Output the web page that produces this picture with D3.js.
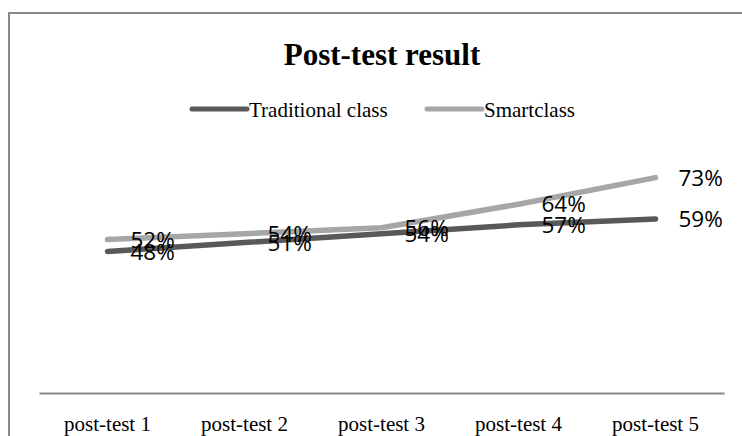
<!DOCTYPE html>
<html>
<head>
<meta charset="utf-8">
<script src="https://cdn.jsdelivr.net/npm/d3@7"></script>
<style>
  body { margin: 0; background: #fff; }
  svg { display: block; }
</style>
</head>
<body>
<svg></svg>
<script>
const categories = ["post-test 1", "post-test 2", "post-test 3", "post-test 4", "post-test 5"];
const traditional = [48, 51, 54, 57, 59];
const smartclass = [52, 54, 56, 64, 73];
const seriesNames = ["Traditional class", "Smartclass"];
const seriesColors = ["#595959", "#a6a6a6"];

const width = 742, height = 436;

const svg = d3.select("svg")
    .attr("width", width)
    .attr("height", height);

// chart frame (right and bottom edges fall outside the picture)
svg.append("path")
    .attr("d", "M9,436V13H742")
    .attr("fill", "none")
    .attr("stroke", "#888")
    .attr("stroke-width", 2);

const x = d3.scaleBand()
    .domain(categories)
    .range([39, 724]);

const y = d3.scaleLinear()
    .domain([0, 100])
    .range([393, 98]);

// title
svg.append("text")
    .attr("x", 382)
    .attr("y", 65)
    .attr("text-anchor", "middle")
    .style("font-family", "'Liberation Serif', 'Times New Roman', serif")
    .style("font-weight", "bold")
    .style("font-size", "31px")
    .text("Post-test result");

// legend
const legendX = [192, 427];
const legend = svg.selectAll("g.legend")
    .data(seriesNames)
    .enter().append("g")
    .attr("class", "legend")
    .attr("transform", (d, i) => "translate(" + legendX[i] + ",109)");

legend.append("line")
    .attr("x1", 0).attr("x2", 55)
    .attr("stroke", (d, i) => seriesColors[i])
    .attr("stroke-width", 5)
    .attr("stroke-linecap", "round");

legend.append("text")
    .attr("x", 57)
    .attr("y", 8)
    .style("font-family", "'Liberation Serif', 'Times New Roman', serif")
    .style("font-size", "21px")
    .text(d => d);

// x axis
const xAxis = svg.append("g")
    .attr("transform", "translate(0,393)")
    .call(d3.axisBottom(x).tickSize(0).tickPadding(23));

xAxis.select(".domain")
    .attr("stroke", "#888")
    .attr("stroke-width", 2);

xAxis.selectAll("text")
    .attr("fill", "#000")
    .style("font-family", "'Liberation Serif', 'Times New Roman', serif")
    .style("font-size", "21px");

// lines
const line = d3.line()
    .x((d, i) => x(categories[i]) + x.bandwidth() / 2)
    .y(d => y(d));

const series = [traditional, smartclass];

svg.selectAll("path.series")
    .data(series)
    .enter().append("path")
    .attr("class", "series")
    .attr("fill", "none")
    .attr("stroke", (d, i) => seriesColors[i])
    .attr("stroke-width", 5.5)
    .attr("stroke-linecap", "round")
    .attr("stroke-linejoin", "round")
    .attr("d", line);

// data labels, placed right of each point
series.forEach(values => {
  svg.selectAll(null)
      .data(values)
      .enter().append("text")
      .attr("x", (d, i) => x(categories[i]) + x.bandwidth() / 2 + 23)
      .attr("y", d => y(d))
      .attr("dy", "0.36em")
      .style("font-family", "'Open Sans', sans-serif")
      .style("font-size", "22.5px")
      .attr("fill", "#000")
      .text(d => d + "%");
});
</script>
</body>
</html>
